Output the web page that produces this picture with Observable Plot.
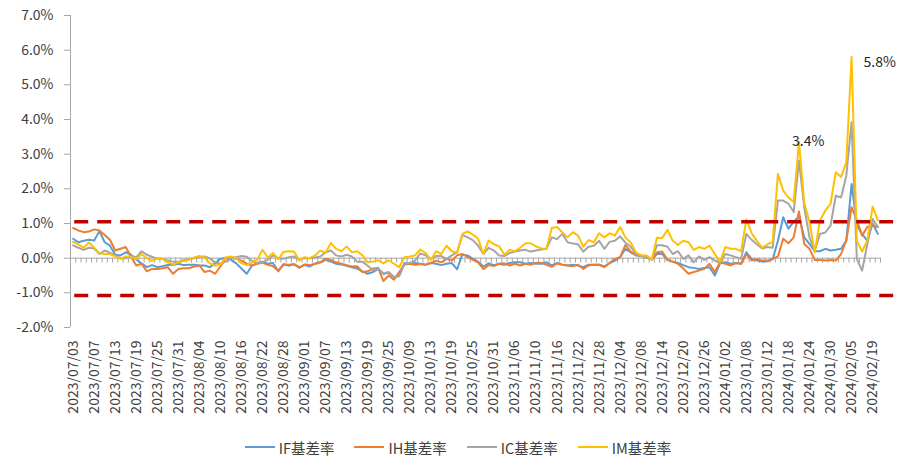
<!DOCTYPE html>
<html><head><meta charset="utf-8">
<script src="https://cdn.jsdelivr.net/npm/d3@7"></script>
<script src="https://cdn.jsdelivr.net/npm/@observablehq/plot@0.6"></script>
<style>
body{margin:0;background:#fff;font-family:"Noto Sans CJK SC","Noto Sans",sans-serif;}
#legend{display:flex;justify-content:center;align-items:center;margin-top:7px;height:20px;padding-left:14px;font-size:14.5px;color:#404040;}
#legend .item{display:flex;align-items:center;margin:0 10px;}
#legend .sw{display:inline-block;width:30px;height:0;border-top:2px solid;margin-right:4px;}
</style></head><body>
<div id="chart"></div><div id="legend"></div>
<script>
const tickLabels = ["2023/07/03","2023/07/07","2023/07/13","2023/07/19","2023/07/25","2023/07/31","2023/08/04","2023/08/10","2023/08/16","2023/08/22","2023/08/28","2023/09/01","2023/09/07","2023/09/13","2023/09/19","2023/09/25","2023/10/09","2023/10/13","2023/10/19","2023/10/25","2023/10/31","2023/11/06","2023/11/10","2023/11/16","2023/11/22","2023/11/28","2023/12/04","2023/12/08","2023/12/14","2023/12/20","2023/12/26","2024/01/02","2023/01/08","2023/01/12","2024/01/18","2024/01/24","2024/01/30","2024/02/05","2024/02/19"];
const labelStep = 4;

const seriesNames = ["IF基差率","IH基差率","IC基差率","IM基差率"];
const seriesColors = ["#5B9BD5","#ED7D31","#A5A5A5","#FFC000"];

const IF = [0.56,0.46,0.50,0.53,0.51,0.78,0.46,0.36,0.10,0.08,
0.17,0.10,-0.04,-0.15,-0.26,-0.20,-0.26,-0.23,-0.20,-0.19,
-0.16,-0.20,-0.19,-0.19,-0.21,-0.21,-0.26,-0.15,-0.02,0.01,
-0.05,-0.15,-0.30,-0.45,-0.22,-0.14,-0.10,-0.16,-0.14,-0.38,
-0.17,-0.22,-0.17,-0.26,-0.20,-0.24,-0.16,-0.12,-0.05,-0.10,
-0.16,-0.18,-0.22,-0.26,-0.30,-0.38,-0.45,-0.40,-0.31,-0.45,
-0.42,-0.55,-0.50,-0.14,-0.16,-0.14,-0.16,-0.19,-0.14,-0.16,
-0.20,-0.16,-0.14,-0.32,0.10,0.08,-0.02,-0.10,-0.24,-0.15,
-0.20,-0.16,-0.19,-0.14,-0.12,-0.12,-0.16,-0.14,-0.16,-0.16,
-0.12,-0.21,-0.14,-0.19,-0.21,-0.19,-0.21,-0.26,-0.19,-0.19,
-0.19,-0.24,-0.14,-0.07,0.03,0.27,0.17,0.08,0.06,0.03,
-0.04,0.12,0.12,-0.05,-0.10,-0.14,-0.20,-0.26,-0.28,-0.31,
-0.28,-0.26,-0.50,-0.15,-0.12,-0.16,-0.14,-0.16,0.17,-0.02,
-0.07,-0.10,-0.09,-0.03,0.50,1.18,0.85,1.05,1.20,0.60,
0.41,0.20,0.20,0.27,0.22,0.24,0.27,0.51,2.14,0.95,
0.70,0.50,1.00,0.70];

const IH = [0.87,0.80,0.75,0.77,0.83,0.80,0.67,0.53,0.22,0.27,
0.32,0.05,-0.21,-0.16,-0.38,-0.31,-0.31,-0.29,-0.26,-0.45,
-0.31,-0.29,-0.29,-0.24,-0.21,-0.40,-0.36,-0.45,-0.24,0.00,
0.03,-0.02,-0.07,-0.16,-0.21,-0.16,-0.13,-0.19,-0.23,-0.36,
-0.19,-0.19,-0.18,-0.28,-0.18,-0.20,-0.16,-0.12,-0.02,-0.05,
-0.12,-0.16,-0.20,-0.24,-0.23,-0.40,-0.38,-0.30,-0.28,-0.66,
-0.50,-0.62,-0.40,-0.18,-0.16,-0.19,-0.17,-0.19,-0.14,-0.07,
-0.12,-0.02,-0.07,0.08,0.12,0.03,-0.05,-0.12,-0.32,-0.20,
-0.23,-0.16,-0.15,-0.21,-0.16,-0.21,-0.16,-0.19,-0.13,-0.14,
-0.19,-0.25,-0.15,-0.19,-0.21,-0.23,-0.19,-0.31,-0.21,-0.19,
-0.19,-0.26,-0.14,-0.02,0.03,0.38,0.19,0.10,0.08,0.03,
-0.04,0.17,0.19,-0.05,-0.10,-0.16,-0.30,-0.45,-0.40,-0.36,
-0.31,-0.16,-0.40,-0.12,-0.16,-0.21,-0.14,-0.16,0.12,-0.07,
-0.02,-0.07,-0.07,-0.02,0.05,0.56,0.43,0.60,1.35,0.41,
0.27,-0.05,-0.05,-0.07,-0.05,-0.07,0.12,0.51,1.47,1.09,
0.65,0.90,0.94,0.90];

const IC = [0.37,0.30,0.24,0.30,0.28,0.12,0.22,0.16,0.08,-0.01,
0.00,0.07,0.02,0.20,0.10,0.04,-0.02,-0.02,-0.07,-0.10,
-0.10,-0.06,-0.02,0.00,0.03,0.05,-0.01,-0.12,-0.16,-0.10,
0.00,0.03,0.06,0.04,-0.08,-0.15,-0.12,-0.05,0.08,0.00,
-0.02,0.03,0.05,-0.05,0.00,0.00,0.02,0.05,0.17,0.22,
0.08,0.05,0.10,0.05,-0.10,-0.10,-0.22,-0.34,-0.30,-0.45,
-0.40,-0.55,-0.52,-0.16,-0.14,-0.07,0.14,0.08,-0.02,0.06,
0.06,-0.02,0.08,0.17,0.67,0.60,0.52,0.36,0.12,0.30,
0.22,0.08,0.06,0.15,0.19,0.22,0.24,0.19,0.22,0.25,
0.27,0.60,0.55,0.70,0.46,0.42,0.40,0.19,0.33,0.36,
0.50,0.27,0.47,0.50,0.63,0.45,0.33,0.12,0.05,0.05,
-0.04,0.37,0.37,0.33,0.12,0.20,-0.02,0.08,-0.12,0.05,
-0.05,0.03,-0.07,-0.14,0.12,0.08,0.03,-0.02,0.70,0.53,
0.40,0.28,0.32,0.30,1.66,1.66,1.57,1.33,2.82,1.47,
0.60,0.22,0.70,0.74,0.94,1.80,1.75,2.38,3.92,-0.02,
-0.36,0.41,1.13,0.90];

const IM = [0.47,0.40,0.30,0.45,0.30,0.14,0.12,0.12,0.05,-0.02,
0.05,0.03,-0.02,0.12,0.00,-0.08,0.00,-0.02,-0.12,-0.18,
-0.12,-0.08,-0.05,0.02,0.06,0.02,-0.15,-0.22,-0.18,0.02,
0.05,0.00,-0.15,-0.20,-0.12,-0.05,0.24,0.02,0.15,-0.03,
0.18,0.20,0.19,-0.07,0.03,0.00,0.08,0.22,0.15,0.44,
0.27,0.20,0.34,0.17,0.20,0.08,-0.12,-0.10,-0.06,-0.15,
-0.06,-0.16,-0.26,0.03,0.05,0.08,0.25,0.15,-0.05,0.20,
0.12,0.36,0.20,0.15,0.70,0.77,0.68,0.56,0.12,0.51,
0.40,0.34,0.10,0.24,0.20,0.30,0.43,0.43,0.34,0.28,
0.27,0.87,0.90,0.75,0.60,0.75,0.65,0.33,0.52,0.46,
0.72,0.60,0.72,0.65,0.90,0.60,0.45,0.17,0.08,0.08,
-0.04,0.59,0.58,0.82,0.50,0.38,0.50,0.46,0.24,0.32,
0.27,0.36,0.12,-0.10,0.32,0.27,0.27,0.20,1.12,0.72,
0.50,0.30,0.40,0.47,2.43,1.95,1.75,1.62,3.36,1.60,
1.04,0.17,1.09,1.37,1.57,2.48,2.34,2.77,5.80,0.50,
0.19,0.51,1.49,1.09];

const thresholds = [1.05, -1.08];
const annotatedIdx = [138, 148];
const yTicks = [-2,-1,0,1,2,3,4,5,6,7];

const seriesValues = [IF, IH, IC, IM];
const n = IF.length;
const rows = seriesValues.flatMap((vals, s) => vals.map((v, i) => ({i, v, s})));
const bounds = d3.range(n + 1).map(k => k - 0.5);
const labelIdx = tickLabels.map((_, k) => k * labelStep);

const W = 902, H = 430, MT = 15, MB = 103, ML = 70, MR = 22;
const pxPerUnit = (H - MT - MB) / (yTicks[yTicks.length-1] - yTicks[0]);
const tickLen = 5 / pxPerUnit;
const axisGray = "#A6A6A6";
const textColor = "#404040";
const font = '"Noto Sans CJK SC","Noto Sans",sans-serif';

const annot = (idx, dx, dy) => Plot.text([idx], {x: d => d, y: d => IM[d], text: d => IM[d].toFixed(1) + "%",
  textAnchor: "start", dx, dy, fontSize: 14, fill: "#262626"});

const chart = Plot.plot({
  width: W, height: H,
  marginTop: MT, marginBottom: MB, marginLeft: ML, marginRight: MR,
  style: {fontFamily: font, color: textColor, background: "#fff"},
  x: {type: "linear", domain: [-0.5, n - 0.5], label: null},
  y: {domain: [yTicks[0], yTicks[yTicks.length-1]], label: null},
  marks: [
    Plot.ruleX([-0.5], {stroke: axisGray, strokeWidth: 1}),
    Plot.ruleY([0], {stroke: axisGray, strokeWidth: 1}),
    Plot.ruleX(bounds, {x: d => d, y1: 0, y2: -tickLen, stroke: axisGray, strokeWidth: 1}),
    Plot.axisY({ticks: yTicks, tickSize: 6, tickPadding: 11, stroke: axisGray, fill: textColor,
      fontSize: 14, tickFormat: d => d.toFixed(1) + "%", label: null}),
    Plot.axisX({ticks: labelIdx, tickSize: 0, tickPadding: 13, tickRotate: -90, fill: textColor,
      fontSize: 14, tickFormat: d => tickLabels[d / labelStep], label: null}),
    ...seriesValues.map((vals, s) => Plot.line(rows.filter(r => r.s === s), {
      x: "i", y: "v", stroke: seriesColors[s], strokeWidth: 2, strokeLinejoin: "round"})),
    Plot.ruleY(thresholds, {y: d => d, x1: 0.3, x2: n + 2, stroke: "#C00000", strokeWidth: 3.5, strokeDasharray: "14,9"}),
    annot(annotatedIdx[0], -7, 0),
    annot(annotatedIdx[1], 12, 5)
  ]
});
document.getElementById("chart").appendChild(chart);

const legend = document.getElementById("legend");
seriesNames.forEach((name, s) => {
  const item = document.createElement("span");
  item.className = "item";
  const sw = document.createElement("span");
  sw.className = "sw";
  sw.style.borderTopColor = seriesColors[s];
  const t = document.createElement("span");
  t.textContent = name;
  item.appendChild(sw); item.appendChild(t);
  legend.appendChild(item);
});
</script>
</body></html>
